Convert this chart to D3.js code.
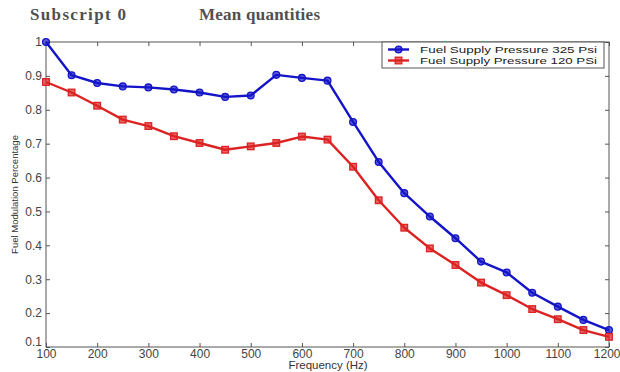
<!DOCTYPE html>
<html>
<head>
<meta charset="utf-8">
<script src="https://cdn.jsdelivr.net/npm/d3@7"></script>
<style>
  html, body { margin: 0; padding: 0; background: #fff; }
  svg { display: block; }
</style>
</head>
<body>
<svg id="chart" width="620" height="372"></svg>
<script>
// Frequency sweep (Hz)
const frequencies = [100, 150, 200, 250, 300, 350, 400, 450, 500, 550, 600, 650,
                     700, 750, 800, 850, 900, 950, 1000, 1050, 1100, 1150, 1200];
// Fuel modulation at 325 psi supply pressure
const pressure325 = [1.0, 0.902, 0.879, 0.869, 0.866, 0.860, 0.851, 0.838, 0.842, 0.903, 0.894, 0.886,
                     0.764, 0.646, 0.554, 0.485, 0.421, 0.352, 0.320, 0.260, 0.219, 0.180, 0.150];
// Fuel modulation at 120 psi supply pressure
const pressure120 = [0.882, 0.851, 0.812, 0.771, 0.752, 0.722, 0.702, 0.682, 0.692, 0.702, 0.721, 0.712,
                     0.632, 0.533, 0.452, 0.391, 0.342, 0.290, 0.253, 0.212, 0.182, 0.150, 0.130];
const seriesNames = ["Fuel Supply Pressure 325 Psi", "Fuel Supply Pressure 120 PSi"];
const xTicks = [100, 200, 300, 400, 500, 600, 700, 800, 900, 1000, 1100, 1200];
const yTicks = [0.1, 0.2, 0.3, 0.4, 0.5, 0.6, 0.7, 0.8, 0.9, 1];

const svg = d3.select("#chart");
const m = { left: 46, right: 609, top: 42, bottom: 347 };

const x = d3.scaleLinear().domain([100, 1200]).range([m.left, m.right]);
const y = d3.scaleLinear().domain([0.1, 1]).range([m.bottom, m.top]);

// Header text above the plot
const header = svg.append("g")
  .attr("font-family", "'Liberation Serif', 'Times New Roman', serif")
  .attr("font-weight", "bold")
  .attr("font-size", 17)
  .attr("fill", "#505050");
header.append("text").attr("x", 30).attr("y", 20).attr("textLength", 96).text("Subscript 0");
header.append("text").attr("x", 199).attr("y", 20).attr("textLength", 121).text("Mean quantities");

// Axes box with inward MATLAB-style ticks on all four sides
const axisColor = "#555";
const tickLen = 4;
const fmtY = d => d === 1 ? "1" : d3.format(".1f")(d);
const sans = "'Liberation Sans', Arial, sans-serif";

svg.append("g")
  .attr("transform", `translate(0,${m.bottom})`)
  .call(d3.axisBottom(x).tickValues(xTicks).tickSizeInner(-tickLen).tickSizeOuter(0)
    .tickPadding(2).tickFormat(d3.format("d")))
  .call(g => g.select(".domain").remove())
  .call(g => g.selectAll(".tick:last-of-type text").attr("text-anchor", "end").attr("x", 11));
svg.append("g")
  .attr("transform", `translate(0,${m.top})`)
  .call(d3.axisTop(x).tickValues(xTicks).tickSizeInner(-tickLen).tickSizeOuter(0).tickFormat(""))
  .call(g => g.select(".domain").remove());
svg.append("g")
  .attr("transform", `translate(${m.left},0)`)
  .call(d3.axisLeft(y).tickValues(yTicks).tickSizeInner(-tickLen).tickSizeOuter(0).tickPadding(4).tickFormat(fmtY))
  .call(g => g.select(".domain").remove())
  // lift the lowest label clear of the first frequency label at the corner
  .call(g => g.selectAll(".tick:first-of-type text").attr("y", -5));
svg.append("g")
  .attr("transform", `translate(${m.right},0)`)
  .call(d3.axisRight(y).tickValues(yTicks).tickSizeInner(-tickLen).tickSizeOuter(0).tickFormat(""))
  .call(g => g.select(".domain").remove());

svg.selectAll(".tick line").attr("stroke", axisColor);
svg.selectAll(".tick text")
  .attr("font-family", sans)
  .attr("font-size", 12)
  .attr("fill", "#444");

svg.append("rect")
  .attr("x", m.left).attr("y", m.top)
  .attr("width", m.right - m.left).attr("height", m.bottom - m.top)
  .attr("fill", "none").attr("stroke", axisColor).attr("stroke-width", 1);

// Axis titles
svg.append("text")
  .attr("x", 328).attr("y", 369)
  .attr("text-anchor", "middle")
  .attr("font-family", sans)
  .attr("font-size", 11.5).attr("fill", "#333")
  .text("Frequency (Hz)");
svg.append("text")
  .attr("transform", `translate(18,${(m.top + m.bottom) / 2}) rotate(-90)`)
  .attr("text-anchor", "middle")
  .attr("font-family", sans)
  .attr("font-size", 9.5).attr("fill", "#333")
  .text("Fuel Modulation Percentage");

// Data series
const series = [
  { name: seriesNames[0], values: pressure325, color: "#1414c8", marker: "circle" },
  { name: seriesNames[1], values: pressure120, color: "#dc2222", marker: "square" }
];

const line = d3.line().x(d => x(d[0])).y(d => y(d[1]));

function drawMarker(g, mk, color, cx, cy) {
  if (mk === "circle") {
    g.append("circle").attr("cx", cx).attr("cy", cy).attr("r", 3.4)
      .attr("fill", color).attr("fill-opacity", 0.7)
      .attr("stroke", color).attr("stroke-width", 1.3);
  } else {
    g.append("rect").attr("x", cx - 3.3).attr("y", cy - 3.3).attr("width", 6.6).attr("height", 6.6)
      .attr("fill", color).attr("fill-opacity", 0.7)
      .attr("stroke", color).attr("stroke-width", 1.3);
  }
}

series.forEach(s => {
  const pts = frequencies.map((f, i) => [f, s.values[i]]);
  svg.append("path").datum(pts)
    .attr("d", line)
    .attr("fill", "none").attr("stroke", s.color).attr("stroke-width", 2.4)
    .attr("stroke-linejoin", "round");
  const g = svg.append("g");
  pts.forEach(p => drawMarker(g, s.marker, s.color, x(p[0]), y(p[1])));
});

// Legend
const lg = svg.append("g").attr("transform", "translate(382,42)");
lg.append("rect").attr("x", 0).attr("y", 0).attr("width", 222).attr("height", 26)
  .attr("fill", "#fff").attr("stroke", axisColor).attr("stroke-width", 1);
series.forEach((s, i) => {
  const yy = 7.5 + i * 11;
  lg.append("line").attr("x1", 6).attr("x2", 27).attr("y1", yy).attr("y2", yy)
    .attr("stroke", s.color).attr("stroke-width", 2.4);
  drawMarker(lg, s.marker, s.color, 16.5, yy);
  lg.append("text").attr("x", 38).attr("y", yy + 3.5)
    .attr("font-family", sans)
    .attr("font-size", 9.8).attr("fill", "#222")
    .attr("textLength", 177).attr("lengthAdjust", "spacingAndGlyphs")
    .text(s.name);
});
</script>
</body>
</html>
